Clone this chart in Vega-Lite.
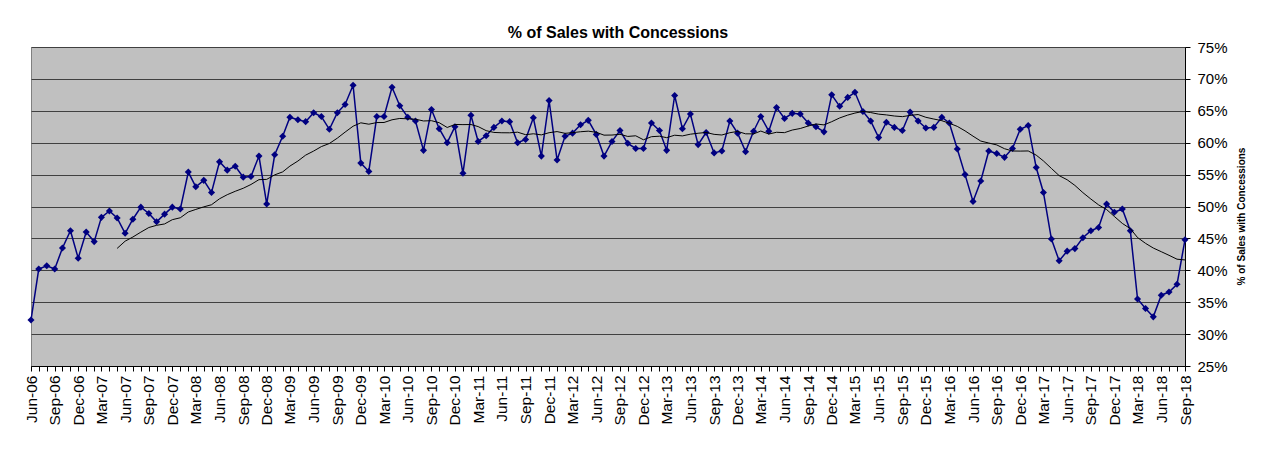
{
  "$schema": "https://vega.github.io/schema/vega-lite/v6.json",
  "width": 1154,
  "height": 319,
  "autosize": {"type": "none"},
  "padding": {"left": 31, "top": 47, "right": 93, "bottom": 85},
  "background": "white",
  "config": {
    "view": {"fill": "#C0C0C0", "stroke": "#808080", "strokeWidth": 1},
    "font": "Liberation Sans"
  },
  "title": {
    "text": "% of Sales with Concessions",
    "fontSize": 16,
    "fontWeight": "bold",
    "font": "Liberation Sans",
    "color": "black",
    "anchor": "middle",
    "offset": 7,
    "dx": 10,
    "dy": 8
  },
  "data": {
    "values": [
      {"d": "2006-06-01", "v": 32.2}, {"d": "2006-07-01", "v": 40.2}, {"d": "2006-08-01", "v": 40.7}, {"d": "2006-09-01", "v": 40.2},
      {"d": "2006-10-01", "v": 43.5}, {"d": "2006-11-01", "v": 46.2}, {"d": "2006-12-01", "v": 41.9}, {"d": "2007-01-01", "v": 46.0},
      {"d": "2007-02-01", "v": 44.5}, {"d": "2007-03-01", "v": 48.3}, {"d": "2007-04-01", "v": 49.3}, {"d": "2007-05-01", "v": 48.2},
      {"d": "2007-06-01", "v": 45.8}, {"d": "2007-07-01", "v": 48.0}, {"d": "2007-08-01", "v": 49.9}, {"d": "2007-09-01", "v": 48.9},
      {"d": "2007-10-01", "v": 47.6}, {"d": "2007-11-01", "v": 48.8}, {"d": "2007-12-01", "v": 49.9}, {"d": "2008-01-01", "v": 49.6},
      {"d": "2008-02-01", "v": 55.4}, {"d": "2008-03-01", "v": 53.1}, {"d": "2008-04-01", "v": 54.1}, {"d": "2008-05-01", "v": 52.2},
      {"d": "2008-06-01", "v": 57.0}, {"d": "2008-07-01", "v": 55.7}, {"d": "2008-08-01", "v": 56.3}, {"d": "2008-09-01", "v": 54.6},
      {"d": "2008-10-01", "v": 54.7}, {"d": "2008-11-01", "v": 57.9}, {"d": "2008-12-01", "v": 50.4}, {"d": "2009-01-01", "v": 58.1},
      {"d": "2009-02-01", "v": 61.0}, {"d": "2009-03-01", "v": 64.0}, {"d": "2009-04-01", "v": 63.6}, {"d": "2009-05-01", "v": 63.3},
      {"d": "2009-06-01", "v": 64.7}, {"d": "2009-07-01", "v": 64.1}, {"d": "2009-08-01", "v": 62.1}, {"d": "2009-09-01", "v": 64.7},
      {"d": "2009-10-01", "v": 66.0}, {"d": "2009-11-01", "v": 69.0}, {"d": "2009-12-01", "v": 56.8}, {"d": "2010-01-01", "v": 55.5},
      {"d": "2010-02-01", "v": 64.1}, {"d": "2010-03-01", "v": 64.1}, {"d": "2010-04-01", "v": 68.7}, {"d": "2010-05-01", "v": 65.8},
      {"d": "2010-06-01", "v": 64.0}, {"d": "2010-07-01", "v": 63.4}, {"d": "2010-08-01", "v": 58.8}, {"d": "2010-09-01", "v": 65.2},
      {"d": "2010-10-01", "v": 62.2}, {"d": "2010-11-01", "v": 60.0}, {"d": "2010-12-01", "v": 62.5}, {"d": "2011-01-01", "v": 55.2},
      {"d": "2011-02-01", "v": 64.3}, {"d": "2011-03-01", "v": 60.2}, {"d": "2011-04-01", "v": 61.1}, {"d": "2011-05-01", "v": 62.4},
      {"d": "2011-06-01", "v": 63.4}, {"d": "2011-07-01", "v": 63.3}, {"d": "2011-08-01", "v": 60.0}, {"d": "2011-09-01", "v": 60.5},
      {"d": "2011-10-01", "v": 63.9}, {"d": "2011-11-01", "v": 57.9}, {"d": "2011-12-01", "v": 66.6}, {"d": "2012-01-01", "v": 57.3},
      {"d": "2012-02-01", "v": 61.0}, {"d": "2012-03-01", "v": 61.5}, {"d": "2012-04-01", "v": 62.8}, {"d": "2012-05-01", "v": 63.5},
      {"d": "2012-06-01", "v": 61.3}, {"d": "2012-07-01", "v": 57.9}, {"d": "2012-08-01", "v": 60.2}, {"d": "2012-09-01", "v": 61.9},
      {"d": "2012-10-01", "v": 59.9}, {"d": "2012-11-01", "v": 59.1}, {"d": "2012-12-01", "v": 59.1}, {"d": "2013-01-01", "v": 63.1},
      {"d": "2013-02-01", "v": 61.9}, {"d": "2013-03-01", "v": 58.8}, {"d": "2013-04-01", "v": 67.4}, {"d": "2013-05-01", "v": 62.2},
      {"d": "2013-06-01", "v": 64.5}, {"d": "2013-07-01", "v": 59.7}, {"d": "2013-08-01", "v": 61.6}, {"d": "2013-09-01", "v": 58.4},
      {"d": "2013-10-01", "v": 58.7}, {"d": "2013-11-01", "v": 63.4}, {"d": "2013-12-01", "v": 61.5}, {"d": "2014-01-01", "v": 58.6},
      {"d": "2014-02-01", "v": 61.8}, {"d": "2014-03-01", "v": 64.1}, {"d": "2014-04-01", "v": 61.8}, {"d": "2014-05-01", "v": 65.5},
      {"d": "2014-06-01", "v": 63.8}, {"d": "2014-07-01", "v": 64.6}, {"d": "2014-08-01", "v": 64.5}, {"d": "2014-09-01", "v": 63.1},
      {"d": "2014-10-01", "v": 62.5}, {"d": "2014-11-01", "v": 61.7}, {"d": "2014-12-01", "v": 67.5}, {"d": "2015-01-01", "v": 65.7},
      {"d": "2015-02-01", "v": 67.1}, {"d": "2015-03-01", "v": 67.9}, {"d": "2015-04-01", "v": 64.9}, {"d": "2015-05-01", "v": 63.4},
      {"d": "2015-06-01", "v": 60.8}, {"d": "2015-07-01", "v": 63.2}, {"d": "2015-08-01", "v": 62.4}, {"d": "2015-09-01", "v": 61.9},
      {"d": "2015-10-01", "v": 64.8}, {"d": "2015-11-01", "v": 63.4}, {"d": "2015-12-01", "v": 62.3}, {"d": "2016-01-01", "v": 62.4},
      {"d": "2016-02-01", "v": 64.0}, {"d": "2016-03-01", "v": 63.1}, {"d": "2016-04-01", "v": 59.0}, {"d": "2016-05-01", "v": 55.0},
      {"d": "2016-06-01", "v": 50.8}, {"d": "2016-07-01", "v": 54.0}, {"d": "2016-08-01", "v": 58.7}, {"d": "2016-09-01", "v": 58.3},
      {"d": "2016-10-01", "v": 57.7}, {"d": "2016-11-01", "v": 59.1}, {"d": "2016-12-01", "v": 62.1}, {"d": "2017-01-01", "v": 62.7},
      {"d": "2017-02-01", "v": 56.1}, {"d": "2017-03-01", "v": 52.2}, {"d": "2017-04-01", "v": 44.9}, {"d": "2017-05-01", "v": 41.5},
      {"d": "2017-06-01", "v": 43.0}, {"d": "2017-07-01", "v": 43.4}, {"d": "2017-08-01", "v": 45.1}, {"d": "2017-09-01", "v": 46.2},
      {"d": "2017-10-01", "v": 46.7}, {"d": "2017-11-01", "v": 50.4}, {"d": "2017-12-01", "v": 49.1}, {"d": "2018-01-01", "v": 49.6},
      {"d": "2018-02-01", "v": 46.2}, {"d": "2018-03-01", "v": 35.5}, {"d": "2018-04-01", "v": 34.0}, {"d": "2018-05-01", "v": 32.7},
      {"d": "2018-06-01", "v": 36.1}, {"d": "2018-07-01", "v": 36.6}, {"d": "2018-08-01", "v": 37.8}, {"d": "2018-09-01", "v": 44.8}
    ]
  },
  "transform": [
    {
      "window": [{"op": "mean", "field": "v", "as": "ma"}, {"op": "count", "as": "n"}],
      "frame": [-11, 0],
      "sort": [{"field": "d", "order": "ascending"}]
    }
  ],
  "encoding": {
    "x": {
      "field": "d",
      "type": "temporal",
      "scale": {
        "type": "utc",
        "nice": false,
        "domain": [
          {"year": 2006, "month": 6, "date": 1, "utc": true},
          {"year": 2018, "month": 9, "date": 1, "utc": true}
        ]
      },
      "axis": {
        "title": null,
        "orient": "bottom",
        "grid": false,
        "tickCount": {"interval": "month", "step": 1},
        "labelExpr": "utcmonth(datum.value) % 3 == 2 ? utcFormat(datum.value, '%b-%y') : ''",
        "labelAngle": -90,
        "labelFontSize": 15.5,
        "labelColor": "black",
        "labelPadding": 4,
        "labelOverlap": false,
        "labelBound": false,
        "labelFlush": false,
        "tickSize": 5,
        "tickColor": "black",
        "domainColor": "black"
      }
    }
  },
  "layer": [
    {
      "mark": {
        "type": "line",
        "color": "#000080",
        "strokeWidth": 1.5,
        "point": {"shape": "diamond", "filled": true, "size": 50, "color": "#000080"}
      },
      "encoding": {
        "y": {
          "field": "v",
          "type": "quantitative",
          "scale": {"domain": [25, 75], "nice": false, "zero": false},
          "axis": {
            "orient": "right",
            "values": [25, 30, 35, 40, 45, 50, 55, 60, 65, 70, 75],
            "labelExpr": "datum.value + '%'",
            "labelFontSize": 15,
            "labelColor": "black",
            "labelPadding": 7,
            "tickSize": 5,
            "tickColor": "black",
            "domainColor": "black",
            "grid": true,
            "gridColor": "#404040",
            "gridWidth": 1,
            "title": "% of Sales with Concessions",
            "titleFontSize": 10,
            "titleFontWeight": "bold",
            "titleColor": "black",
            "titleAngle": 270,
            "titlePadding": 19,
            "titleY": 169
          }
        }
      }
    },
    {
      "transform": [{"filter": "datum.n >= 12"}],
      "mark": {"type": "line", "color": "black", "strokeWidth": 1},
      "encoding": {
        "y": {
          "field": "ma",
          "type": "quantitative",
          "scale": {"domain": [25, 75], "nice": false, "zero": false},
          "axis": {
            "orient": "right",
            "values": [25, 30, 35, 40, 45, 50, 55, 60, 65, 70, 75],
            "labelExpr": "datum.value + '%'",
            "labelFontSize": 15,
            "labelColor": "black",
            "labelPadding": 7,
            "tickSize": 5,
            "tickColor": "black",
            "domainColor": "black",
            "grid": true,
            "gridColor": "#404040",
            "gridWidth": 1,
            "title": "% of Sales with Concessions",
            "titleFontSize": 10,
            "titleFontWeight": "bold",
            "titleColor": "black",
            "titleAngle": 270,
            "titlePadding": 19,
            "titleY": 169
          }
        }
      }
    }
  ]
}
